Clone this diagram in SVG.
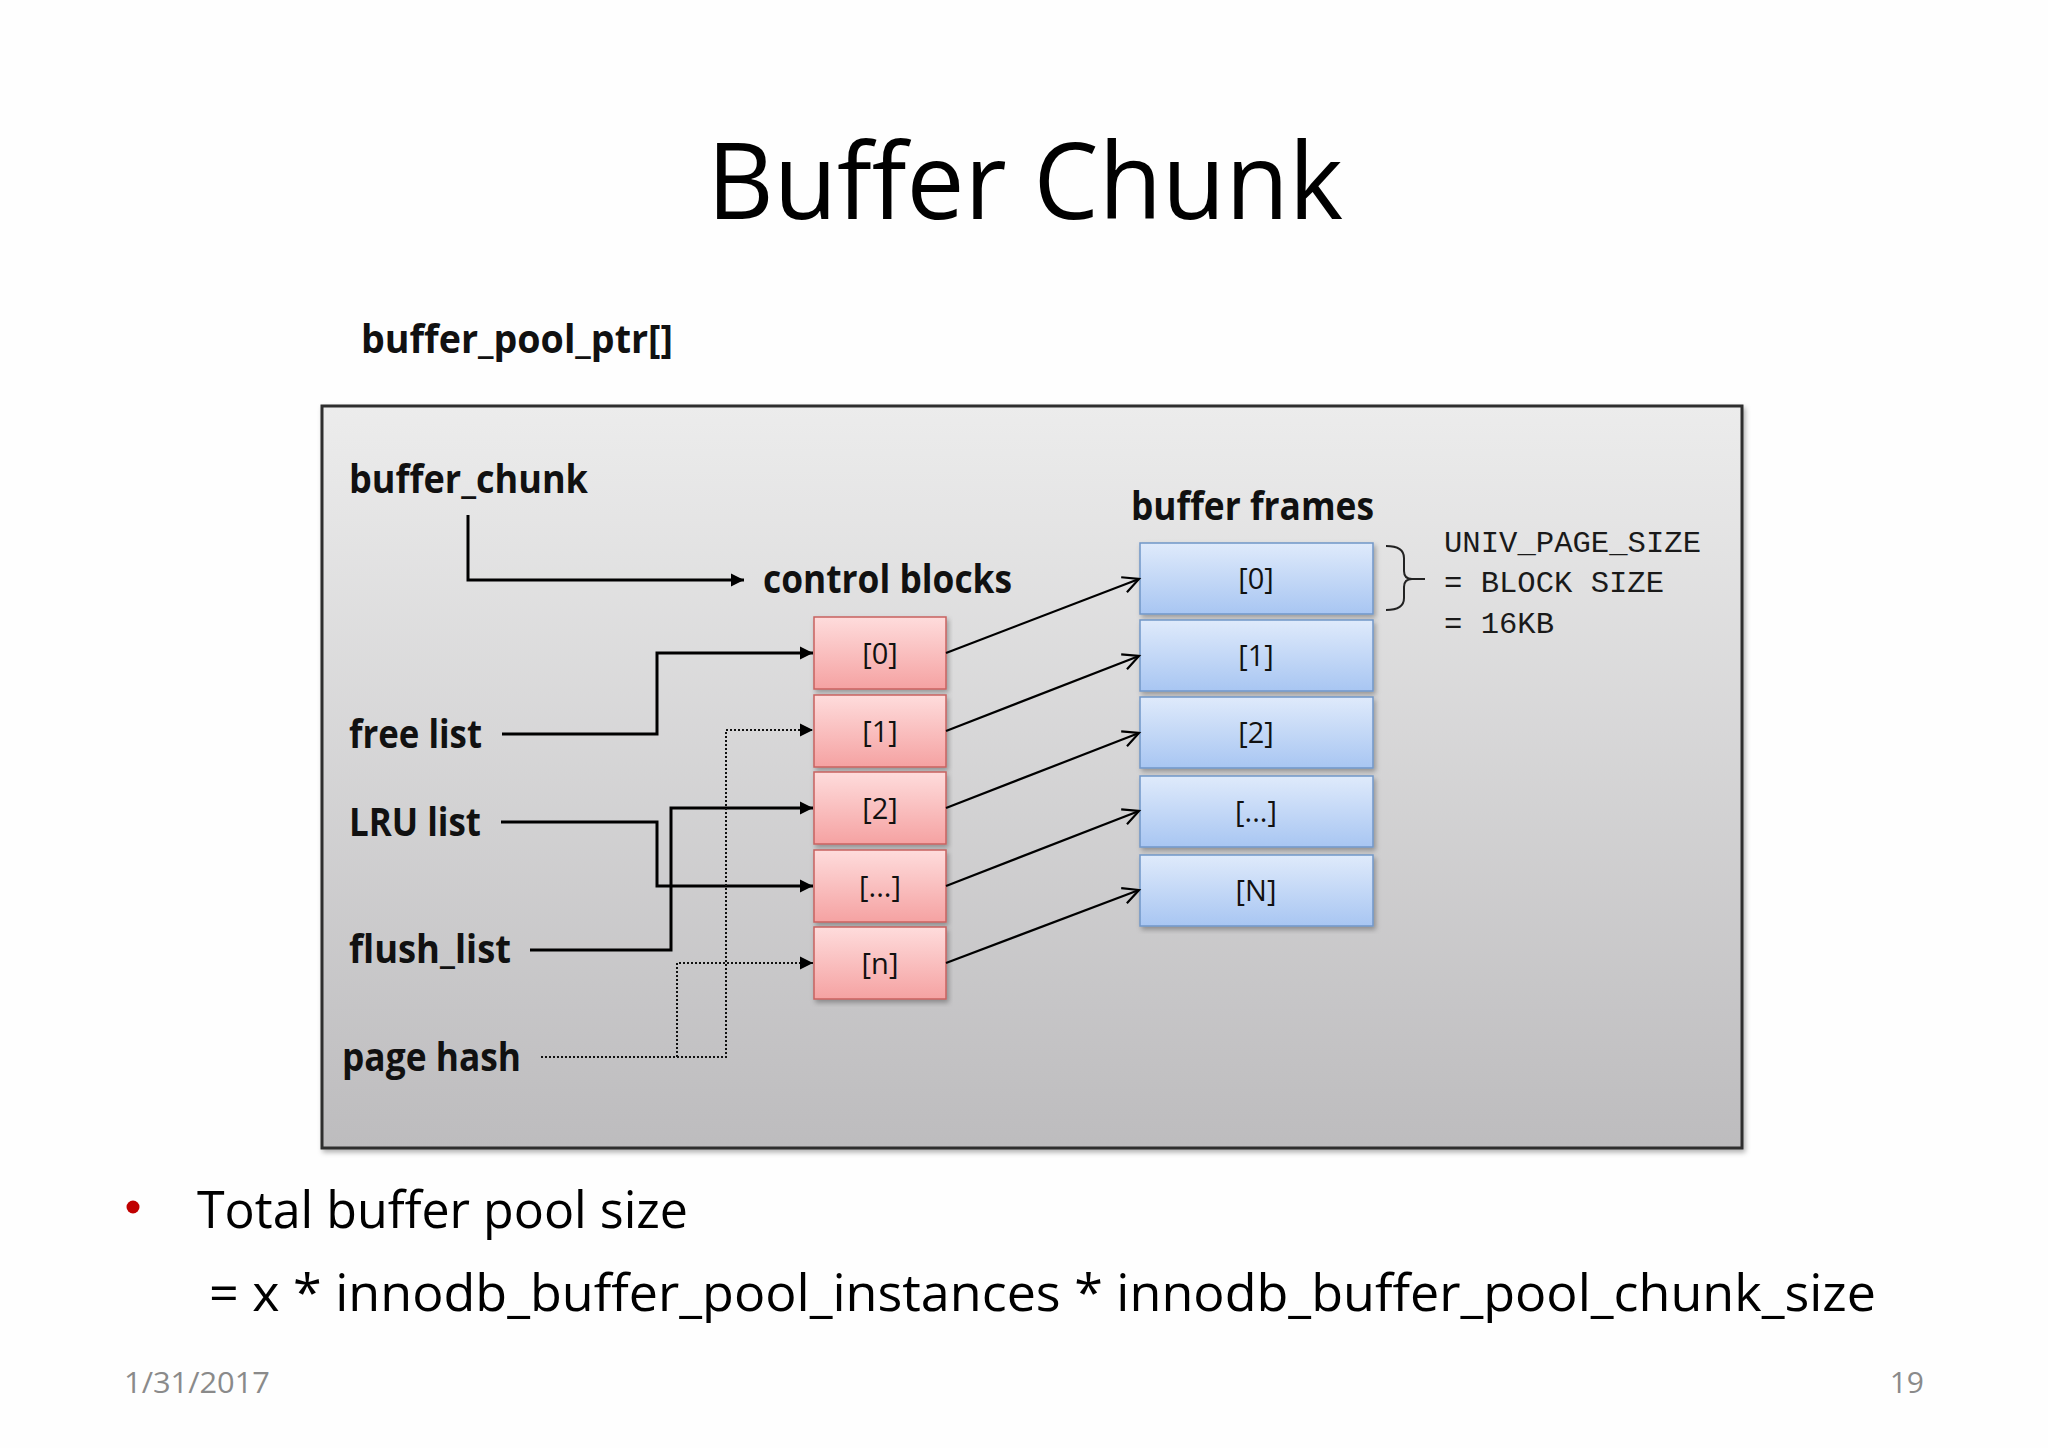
<svg xmlns="http://www.w3.org/2000/svg" width="2048" height="1448" viewBox="0 0 2048 1448">
<defs>
<style>
.title{font-family:"Open Sans","Noto Sans",sans-serif;font-size:106px;fill:#000}
.lbl{font-family:"Open Sans","Noto Sans",sans-serif;font-weight:bold;font-size:39px;fill:#111}
.idx{font-family:"Open Sans","Noto Sans",sans-serif;font-size:29px;fill:#111;text-anchor:middle}
.mono{font-family:"Liberation Mono","DejaVu Sans Mono",monospace;font-size:30px;fill:#1a1a1a}
.body{font-family:"Open Sans","Noto Sans",sans-serif;font-size:52px;fill:#000}
.foot{font-family:"Open Sans","Noto Sans",sans-serif;font-size:30px;fill:#8a8a8a}
.red{fill:url(#gRed);stroke:#c8625f;stroke-width:1.5}
.blue{fill:url(#gBlue);stroke:#7096c8;stroke-width:1.5}
.solid{fill:none;stroke:#000;stroke-width:3}
.dot{fill:none;stroke:#111;stroke-width:2;stroke-dasharray:2 2}
.ptr{fill:none;stroke:#000;stroke-width:2.2}
</style>
<linearGradient id="gBox" x1="0" y1="0" x2="0" y2="1">
<stop offset="0" stop-color="#ececec"/>
<stop offset="1" stop-color="#bdbcbe"/>
</linearGradient>
<linearGradient id="gRed" x1="0" y1="0" x2="0" y2="1">
<stop offset="0" stop-color="#fedcdc"/>
<stop offset="1" stop-color="#f5a2a2"/>
</linearGradient>
<linearGradient id="gBlue" x1="0" y1="0" x2="0" y2="1">
<stop offset="0" stop-color="#dfeafb"/>
<stop offset="1" stop-color="#a8c6f2"/>
</linearGradient>
<filter id="sh" x="-5%" y="-5%" width="110%" height="115%">
<feDropShadow dx="2" dy="3" stdDeviation="2.5" flood-color="#000" flood-opacity="0.3"/>
</filter>
<marker id="fill" markerUnits="userSpaceOnUse" markerWidth="14" markerHeight="14" refX="13" refY="7" orient="auto">
<path d="M0,0.5 L13,7 L0,13.5 Z" fill="#000"/>
</marker>
<marker id="open" markerUnits="userSpaceOnUse" markerWidth="22" markerHeight="22" refX="19" refY="11" orient="auto">
<path d="M3,3 L19,11 L3,19" fill="none" stroke="#000" stroke-width="2.2"/>
</marker>
</defs>
<rect x="0" y="0" width="2048" height="1448" fill="#fefefe"/>
<text class="title" x="707" y="219" textLength="636" lengthAdjust="spacingAndGlyphs">Buffer Chunk</text>
<text class="lbl" x="361" y="353" textLength="312" lengthAdjust="spacingAndGlyphs">buffer_pool_ptr[]</text>
<g id="chunk">
<rect x="322" y="406" width="1420" height="742" fill="url(#gBox)" stroke="#2e2e2e" stroke-width="3" filter="url(#sh)"/>
</g>
<g id="labels">
<text class="lbl" x="349" y="493" textLength="239" lengthAdjust="spacingAndGlyphs">buffer_chunk</text>
<text class="lbl" x="763" y="593" textLength="249" lengthAdjust="spacingAndGlyphs">control blocks</text>
<text class="lbl" x="1131" y="520" textLength="243" lengthAdjust="spacingAndGlyphs">buffer frames</text>
<text class="lbl" x="349" y="748" textLength="133" lengthAdjust="spacingAndGlyphs">free list</text>
<text class="lbl" x="349" y="836" textLength="132" lengthAdjust="spacingAndGlyphs">LRU list</text>
<text class="lbl" x="349" y="963" textLength="162" lengthAdjust="spacingAndGlyphs">flush_list</text>
<text class="lbl" x="342" y="1071" textLength="179" lengthAdjust="spacingAndGlyphs">page hash</text>
</g>
<g id="cb0"><rect class="red" x="814" y="617" width="132" height="72" filter="url(#sh)"/><text class="idx" x="880" y="664">[0]</text></g>
<g id="cb1"><rect class="red" x="814" y="695" width="132" height="72" filter="url(#sh)"/><text class="idx" x="880" y="742">[1]</text></g>
<g id="cb2"><rect class="red" x="814" y="772" width="132" height="72" filter="url(#sh)"/><text class="idx" x="880" y="819">[2]</text></g>
<g id="cb3"><rect class="red" x="814" y="850" width="132" height="72" filter="url(#sh)"/><text class="idx" x="880" y="897">[...]</text></g>
<g id="cbn"><rect class="red" x="814" y="927" width="132" height="72" filter="url(#sh)"/><text class="idx" x="880" y="974">[n]</text></g>
<g id="bf0"><rect class="blue" x="1140" y="543" width="233" height="71" filter="url(#sh)"/><text class="idx" x="1256" y="589">[0]</text></g>
<g id="bf1"><rect class="blue" x="1140" y="620" width="233" height="71" filter="url(#sh)"/><text class="idx" x="1256" y="666">[1]</text></g>
<g id="bf2"><rect class="blue" x="1140" y="697" width="233" height="71" filter="url(#sh)"/><text class="idx" x="1256" y="743">[2]</text></g>
<g id="bf3"><rect class="blue" x="1140" y="776" width="233" height="71" filter="url(#sh)"/><text class="idx" x="1256" y="822">[...]</text></g>
<g id="bfN"><rect class="blue" x="1140" y="855" width="233" height="71" filter="url(#sh)"/><text class="idx" x="1256" y="901">[N]</text></g>
<g id="note">
<path d="M1386,546 Q1404,546 1404,558 V571 Q1404,579 1412,579 H1425 M1412,579 Q1404,579 1404,587 V598 Q1404,610 1386,610" fill="none" stroke="#222" stroke-width="2"/>
<text class="mono" x="1444" y="552" textLength="257" lengthAdjust="spacingAndGlyphs">UNIV_PAGE_SIZE</text>
<text class="mono" x="1444" y="592" textLength="220" lengthAdjust="spacingAndGlyphs">= BLOCK SIZE</text>
<text class="mono" x="1444" y="633" textLength="110" lengthAdjust="spacingAndGlyphs">= 16KB</text>
</g>
<g id="connectors">
<path class="solid" d="M468,515 V580 H744" marker-end="url(#fill)"/>
<path class="solid" d="M502,734 H657 V653 H813" marker-end="url(#fill)"/>
<path class="solid" d="M501,822 H657 V886 H813" marker-end="url(#fill)"/>
<path class="solid" d="M530,950 H671 V808 H813" marker-end="url(#fill)"/>
<path class="dot" d="M541,1057 H726 V730 H813" marker-end="url(#fill)"/>
<path class="dot" d="M677,1057 V963 H813" marker-end="url(#fill)"/>
<path class="ptr" d="M946,653 L1139,579" marker-end="url(#open)"/>
<path class="ptr" d="M946,731 L1139,656" marker-end="url(#open)"/>
<path class="ptr" d="M946,808 L1139,733" marker-end="url(#open)"/>
<path class="ptr" d="M946,886 L1139,811" marker-end="url(#open)"/>
<path class="ptr" d="M946,963 L1139,890" marker-end="url(#open)"/>
</g>
<circle cx="133" cy="1207" r="6.5" fill="#c00000"/>
<text class="body" x="197" y="1228" textLength="491" lengthAdjust="spacingAndGlyphs">Total buffer pool size</text>
<text class="body" x="209" y="1311" textLength="1667" lengthAdjust="spacingAndGlyphs">= x * innodb_buffer_pool_instances * innodb_buffer_pool_chunk_size</text>
<text class="foot" x="124" y="1393" textLength="146" lengthAdjust="spacingAndGlyphs">1/31/2017</text>
<text class="foot" x="1924" y="1393" text-anchor="end">19</text>
</svg>
